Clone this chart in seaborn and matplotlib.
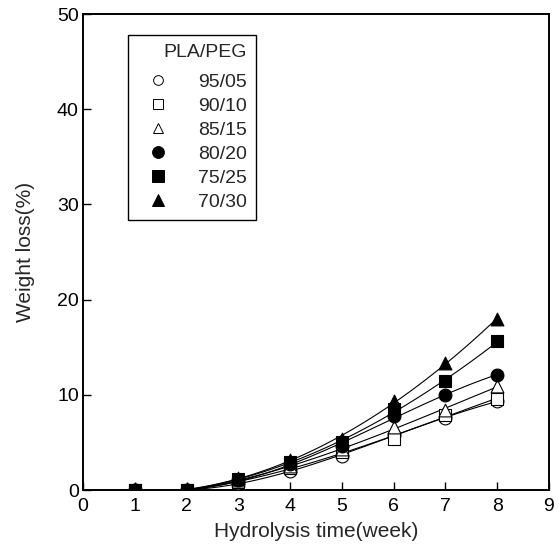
import numpy as np
import pandas as pd
import matplotlib
matplotlib.use("Agg")
import matplotlib.pyplot as plt
from matplotlib.lines import Line2D
import seaborn as sns

# Hydrolysis time (week) and weight loss (%) for each PLA/PEG composition
weeks = [1, 2, 3, 4, 5, 6, 7, 8]
loss_95_05 = [0.0, 0.0, 0.7, 2.0, 3.6, 5.8, 7.6, 9.3]
loss_90_10 = [0.0, 0.0, 0.8, 2.3, 4.0, 5.4, 7.9, 9.6]
loss_85_15 = [0.0, 0.0, 1.0, 2.5, 4.3, 6.6, 8.4, 10.9]
loss_80_20 = [0.0, 0.0, 1.1, 2.7, 4.6, 7.8, 10.0, 12.1]
loss_75_25 = [0.0, 0.0, 1.2, 2.9, 5.0, 8.5, 11.4, 15.6]
loss_70_30 = [0.0, 0.0, 1.3, 3.2, 5.4, 9.3, 13.3, 18.0]

compositions = ["95/05", "90/10", "85/15", "80/20", "75/25", "70/30"]
series = [loss_95_05, loss_90_10, loss_85_15, loss_80_20, loss_75_25, loss_70_30]
markers = ["o", "s", "^", "o", "s", "^"]
filled = [False, False, False, True, True, True]

x_ticks = list(range(0, 10))
y_ticks = [0, 10, 20, 30, 40, 50]

sns.set_style("ticks")
plt.rcParams["font.family"] = ["Liberation Sans", "DejaVu Sans"]

fig = plt.figure(figsize=(5.59, 5.45), dpi=100)
ax = fig.add_axes([0.1485, 0.1009, 0.8336, 0.8734])

df = pd.DataFrame({"week": weeks * len(series),
                   "loss": np.concatenate(series),
                   "ratio": np.repeat(compositions, len(weeks))})

handles = []
for comp, mk, fill in zip(compositions, markers, filled):
    sub = df[df["ratio"] == comp]
    # smooth cubic trend from week 2 onward
    fit = sub[sub["week"] >= 2]
    sns.regplot(data=fit, x="week", y="loss", order=3, ci=None, scatter=False,
                truncate=True, ax=ax, color="black",
                line_kws={"linewidth": 0.8, "zorder": 2})
    face = "black" if fill else "white"
    sns.scatterplot(data=sub, x="week", y="loss", marker=mk, s=85,
                    facecolor=face, edgecolor="black", linewidth=0.8,
                    ax=ax, zorder=3, legend=False)
    handles.append(Line2D([], [], linestyle="none", marker=mk,
                          markersize=8.5 if fill else 7,
                          markerfacecolor=face, markeredgecolor="black",
                          markeredgewidth=0.7))

ax.set_xlim(0, 9)
ax.set_ylim(0, 50)
ax.set_xticks(x_ticks)
ax.set_yticks(y_ticks)
ax.tick_params(axis="both", direction="in", length=6, width=1.0,
               labelsize=14, colors="black", top=False, right=False)
ax.tick_params(axis="x", pad=6)
ax.tick_params(axis="y", pad=3)
for side in ["left", "right", "top", "bottom"]:
    ax.spines[side].set_visible(True)
    ax.spines[side].set_linewidth(1.4)
    ax.spines[side].set_color("black")

ax.set_xlabel("Hydrolysis time(week)", fontsize=15, labelpad=5)
ax.set_ylabel("Weight loss(%)", fontsize=15, labelpad=16)

leg = ax.legend(handles, compositions, title="PLA/PEG", loc="upper left",
                bbox_to_anchor=(0.0966, 0.956), borderaxespad=0,
                fontsize=14, title_fontsize=14, frameon=True, fancybox=False,
                framealpha=1, edgecolor="black", handlelength=2.2,
                handletextpad=0.95, labelspacing=0.33, borderpad=0.45,
                alignment="right")
leg.get_frame().set_linewidth(1.0)
leg._legend_box.sep = 9

fig.savefig("out.png", dpi=100)
